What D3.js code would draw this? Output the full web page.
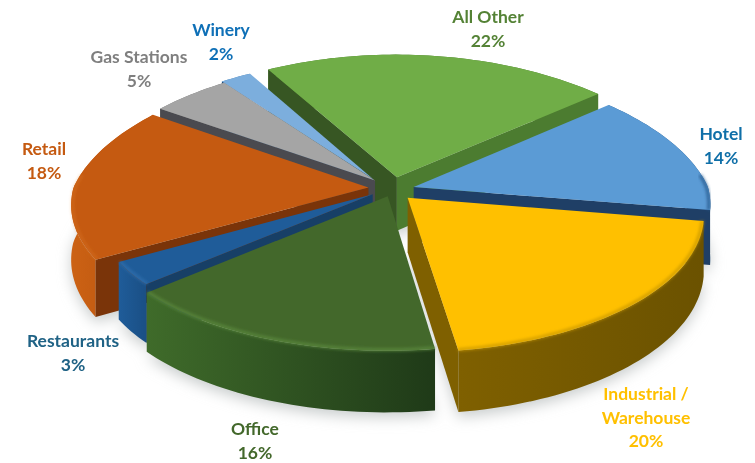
<!DOCTYPE html>
<html><head><meta charset="utf-8">
<script src="https://cdn.jsdelivr.net/npm/d3@7"></script>
<style>html,body{margin:0;background:#fff}svg{display:block}text{font-family:Lato,sans-serif;font-weight:700;font-size:17.5px;text-anchor:middle}</style>
</head><body>
<svg id="c" width="755" height="463"></svg>
<script>
// data
const categories = ["All Other","Hotel","Industrial / Warehouse","Office","Restaurants","Retail","Gas Stations","Winery"];
const values = [22,14,20,16,3,18,5,2];
// styles
const topColors  = ["#70AD47","#5B9BD5","#FFC000","#43682B","#1F5C99","#C55A11","#A5A5A5","#7CAEDD"];
const labelColors= ["#548235","#0F6FA8","#FFC000","#43682B","#1F6285","#C55A11","#7F7F7F","#0F70B7"];
const wallStart  = ["#375623","#1F3F66","#7F6000","#375623","#173F66","#7A3409","#4A4A4F","#24486F"];
const wallEnd    = ["#4C7C30","#1F3F66","#7F6000","#375623","#173F66","#7A3409","#4A4A4F","#24486F"];
const rimLeft    = ["#4C7C30","#2A5C90","#7F6000","#3F6B2A","#1F5C99","#CC6214","#777777","#4A80B5"];
const rimRight   = ["#4C7C30","#24527F","#6B5200","#1F3A18","#1A4F85","#B5500E","#777777","#4A80B5"];
const bevel      = ["#8CC468","#2A5C90","#C79600","#5C8C3E","#3B7DBD","#E07A2A","#C0C0C0","#9CC4EA"];
const bevelAlpha = [0,0.9,0.8,0.8,0.5,0.35,0,0];
const paintOrder = [0,7,1,6,5,4,3,2];
const labelLines = [["All Other","22%"],["Hotel","14%"],["Industrial /","Warehouse","20%"],["Office","16%"],["Restaurants","3%"],["Retail","18%"],["Gas Stations","5%"],["Winery","2%"]];
const labelAnchors = [[488,17],[721,134],[646,394],[255,429],[73,341],[44,149],[139,57],[221,30]];
// small per-slice placement offsets
const nudgeX = [1,-1,-1,4,0,0,0,-6];
const nudgeY = [0,2,2,-2,0,0,0,0];
const radiusScale = [1.03,1,0.99,0.985,0.93,1,1,1];

const svg = d3.select("#c");
const cx=392, cy=188, Rx=295, Ry=136, depth=54, persp=8.5, explode=0.08, backSqueeze=0.07;
const rad = d3.scaleLinear().domain([0,360]).range([0,2*Math.PI]);
const slices = d3.pie().sort(null).startAngle(rad(-30)).endAngle(rad(330))(values);

function project(X,Y,z,sq){const s=persp/(persp+Y);return [cx+Rx*X*s*sq, cy-Ry*Y*s+z*depth*s];}
function ptAt(sl,a,r,z){
  const m=(sl.startAngle+sl.endAngle)/2, sq=1-backSqueeze*Math.max(0,Math.cos(a))*(r>0?1:0);
  const rr=r*radiusScale[sl.index];
  const p=project(explode*Math.sin(m)+rr*Math.sin(a), explode*Math.cos(m)+rr*Math.cos(a), z, sq);
  return [p[0]+nudgeX[sl.index],p[1]+nudgeY[sl.index]];
}
function arcAngles(sl){const n=Math.max(4,Math.ceil((sl.endAngle-sl.startAngle)/rad(1.5)));return d3.range(n+1).map(i=>sl.startAngle+(sl.endAngle-sl.startAngle)*i/n);}
const line=d3.line();
const close=p=>line(p)+"Z";

const defs=svg.append("defs");
defs.append("filter").attr("id","shadow").attr("x","-20%").attr("y","-20%").attr("width","140%").attr("height","140%").append("feGaussianBlur").attr("stdDeviation",7);
defs.append("filter").attr("id","soft").attr("x","-20%").attr("y","-20%").attr("width","140%").attr("height","140%").append("feGaussianBlur").attr("stdDeviation",1.6);

// soft ground shadow
svg.append("g").attr("filter","url(#shadow)").selectAll("path").data(slices).join("path")
  .attr("fill","#c9cdcd").attr("transform","translate(0,5)")
  .attr("d",sl=>close([ptAt(sl,sl.startAngle,0,1),...arcAngles(sl).map(a=>ptAt(sl,a,1,1))]));

const root=svg.append("g");
paintOrder.forEach(i=>{
  const sl=slices[i], g=root.append("g"), as=arcAngles(sl);
  const topPts=as.map(a=>ptAt(sl,a,1,0)), botPts=as.map(a=>ptAt(sl,a,1,1));
  const ap0=ptAt(sl,0,0,0), ap1=ptAt(sl,0,0,1);
  const first=topPts[0], last=topPts[topPts.length-1];
  // outer rim
  const ext=d3.extent(topPts,p=>p[0]);
  const gr=defs.append("linearGradient").attr("id","rim"+i).attr("gradientUnits","userSpaceOnUse")
    .attr("x1",ext[0]).attr("x2",ext[1]).attr("y1",0).attr("y2",0);
  gr.append("stop").attr("offset",0).attr("stop-color",rimLeft[i]);
  gr.append("stop").attr("offset",1).attr("stop-color",rimRight[i]);
  g.append("path").attr("fill",`url(#rim${i})`).attr("d",close([...topPts,...botPts.slice().reverse()]));
  // radial walls, only the ones that face the viewer
  if(first[0]<ap0[0]) g.append("path").attr("fill",wallStart[i]).attr("d",close([ap0,first,botPts[0],ap1]));
  if(last[0]>ap0[0]) g.append("path").attr("fill",wallEnd[i]).attr("d",close([ap0,last,botPts[botPts.length-1],ap1]));
  // top face
  g.append("path").attr("fill",topColors[i]).attr("d",close([ap0,...topPts]));
  // soft bevel along the viewer-facing edge
  const front=as.filter(a=>Math.cos(a)<0.1).map(a=>ptAt(sl,a,0.995,0));
  if(front.length>1&&bevelAlpha[i]>0) g.append("path").attr("fill","none").attr("stroke",bevel[i]).attr("stroke-opacity",bevelAlpha[i]).attr("stroke-width",3).attr("filter","url(#soft)").attr("d",line(front));
});

// labels
const lg=svg.append("g");
labelLines.forEach((lines,i)=>{
  lines.forEach((t,j)=>{
    lg.append("text").attr("x",labelAnchors[i][0]).attr("y",labelAnchors[i][1]+j*23.5+6).attr("fill",labelColors[i]).text(t);
  });
});
</script>
</body></html>
